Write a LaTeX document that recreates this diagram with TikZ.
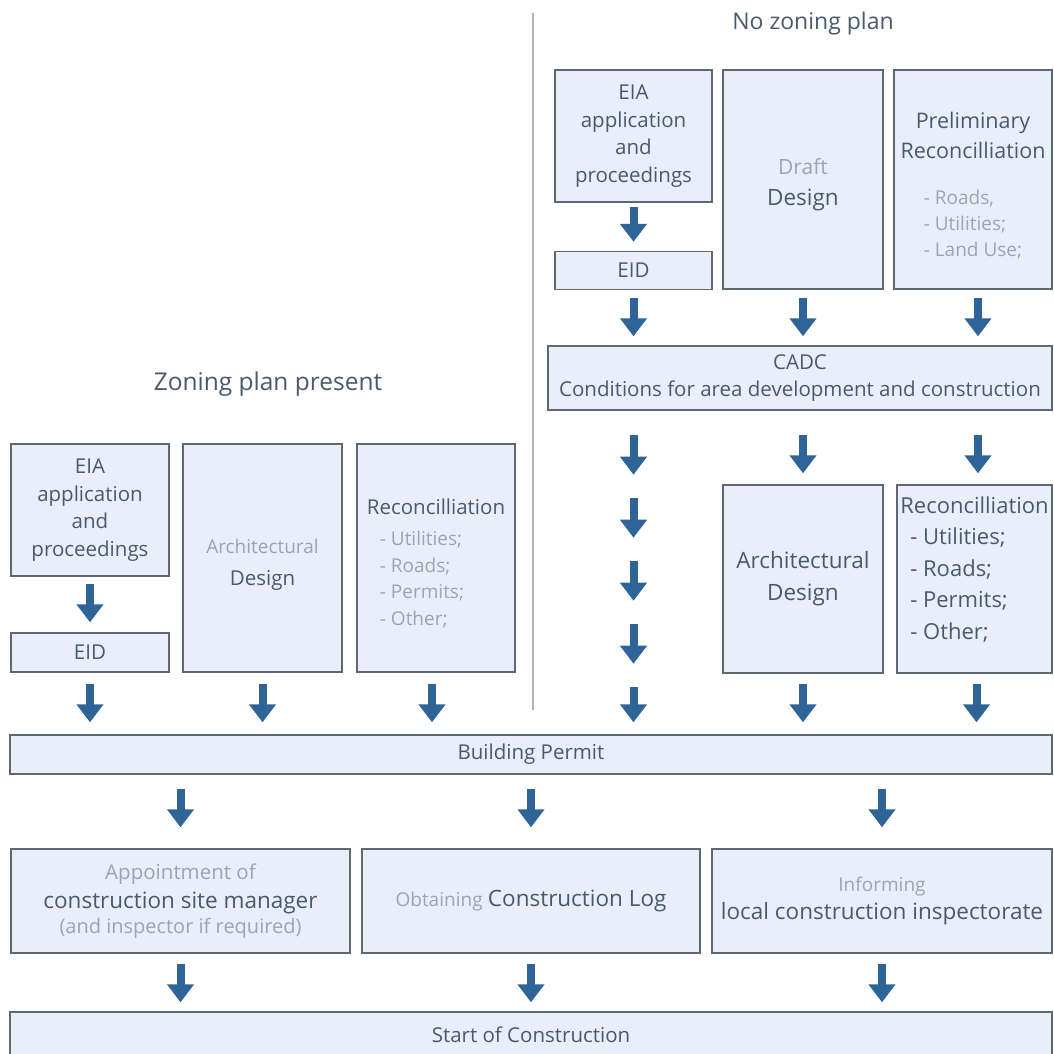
\documentclass[tikz,border=0pt]{standalone}
\usepackage{fontspec}
\setmainfont{Open Sans}
\usetikzlibrary{arrows.meta,calc}
\definecolor{boxfill}{HTML}{E9EEF8}
\definecolor{boxline}{HTML}{5E6873}
\definecolor{darkT}{HTML}{4A5A6E}
\definecolor{lightT}{HTML}{9EA5B0}
\definecolor{arrowC}{HTML}{2F6498}
\definecolor{vlineC}{HTML}{B4B4B4}
\newcommand\txtlight{\color{lightT}\fontsize{19}{26}\selectfont}
\newcommand\txtbig{\fontsize{22.5}{31}\selectfont}
\begin{document}
\begin{tikzpicture}[x=1pt,y=-1pt,
  box/.style={draw=boxline, fill=boxfill, line width=1.4pt, rectangle, inner sep=0pt,
    align=center, text=darkT, font=\fontsize{20.5}{27.5}\selectfont},
  head/.style={text=darkT, font=\fontsize{23}{28}\selectfont, inner sep=0pt},
  bigarrow/.style={draw=arrowC, line width=8pt, line cap=butt, -{Triangle[width=26pt,length=18pt]}},
  sep/.style={draw=vlineC, line width=1.2pt}
]
\useasboundingbox (0,0) rectangle (1054,1054);
\fill[white] (0,0) rectangle (1054,1054);

% headers and separator
\node[head] (hNo) at (813,24) {No zoning plan};
\node[head, font=\fontsize{24.5}{28}\selectfont] (hZon) at (268,384) {Zoning plan present};
\coordinate (sTop) at (533,13);
\coordinate (sBot) at (533,710);
\draw[sep] (sTop) -- (sBot);

% left branch
\node[box, minimum width=158pt, minimum height=132pt] (eiaL) at (90,510) {EIA\\application\\and\\proceedings};
\node[box, minimum width=158pt, minimum height=39pt] (eidL) at (90,652.5) {EID};
\node[box, minimum width=159pt, minimum height=228pt] (archL) at (262.5,558) {{\txtlight\rule{0pt}{28pt}Architectural}\\[5pt]Design};
\node[box, minimum width=158pt, minimum height=228pt, align=left] (recL) at (436,558)
  {\rule{0pt}{26pt}Reconcilliation\\[4pt]{\txtlight\hspace*{13pt}- Utilities;}\\[-1pt]{\txtlight\hspace*{13pt}- Roads;}\\[-1pt]{\txtlight\hspace*{13pt}- Permits;}\\[-1pt]{\txtlight\hspace*{13pt}- Other;}};

% right branch
\node[box, minimum width=157pt, minimum height=132pt] (eiaR) at (633.5,136) {EIA\\application\\and\\proceedings};
\node[box, minimum width=157pt, minimum height=38pt] (eidR) at (633.5,270.5) {EID};
\node[box, minimum width=160pt, minimum height=219pt] (draft) at (803,179.5) {{\color{lightT}\fontsize{21}{27}\selectfont\rule{0pt}{26pt}Draft}\\[3pt]{\txtbig Design}};
\node[box, minimum width=158pt, minimum height=219pt, font=\fontsize{21.5}{30}\selectfont] (prelim) at (973,179.5)
  {\rule{0pt}{34pt}Preliminary\\Reconcilliation\\[27pt]{\txtlight\begin{tabular}{@{}l@{}}- Roads,\\- Utilities;\\- Land Use;\end{tabular}}};
\node[box, minimum width=504pt, minimum height=64pt] (cadc) at (800,378) {CADC\\Conditions for area development and construction};
\node[box, minimum width=160pt, minimum height=188pt, font=\fontsize{22.5}{32}\selectfont] (archR) at (803,579) {Architectural\\Design};
\node[box, minimum width=155pt, minimum height=188pt, align=left, font=\fontsize{22}{31.5}\selectfont] (recR) at (974.5,579)
  {Reconcilliation\\\hspace*{10pt}- Utilities;\\\hspace*{10pt}- Roads;\\\hspace*{10pt}- Permits;\\\hspace*{10pt}- Other;\\[-9pt]};

% common
\node[box, minimum width=1042pt, minimum height=39pt] (bp) at (531,754.5) {Building Permit};
\node[box, minimum width=339pt, minimum height=104pt] (mgr) at (180.5,901)
  {{\txtlight\fontsize{20.5}{26}\selectfont Appointment of}\\[2pt]{\txtbig construction site manager}\\[-3pt]{\txtlight\fontsize{20}{26}\selectfont (and inspector if required)}};
\node[box, minimum width=338pt, minimum height=104pt] (log) at (531,901)
  {{\txtlight Obtaining} {\txtbig Construction Log}};
\node[box, minimum width=340pt, minimum height=104pt] (insp) at (882,901)
  {{\txtlight Informing}\\[0pt]{\txtbig local construction inspectorate}};
\node[box, minimum width=1042pt, minimum height=46pt] (start) at (531,1035) {Start of Construction};

% arrows, left branch
\draw[bigarrow] ($(eiaL.south)+(0,7)$) -- ($(eidL.north)+(0,-10)$);
\draw[bigarrow] ($(eidL.south)+(0,11)$) -- ($(eidL.south |- bp.north)+(0,-12)$);
\draw[bigarrow] ($(archL.south)+(0,11)$) -- ($(archL.south |- bp.north)+(0,-12)$);
\draw[bigarrow] ($(recL.south)+(-4,11)$) -- ($(recL.south |- bp.north)+(-4,-12)$);

% arrows, right branch
\draw[bigarrow] ($(eiaR.south)+(0,4)$) -- ($(eidR.north)+(0,-9)$);
\draw[bigarrow] ($(eidR.south)+(0,8)$) -- ($(eidR.south |- cadc.north)+(0,-9)$);
\draw[bigarrow] ($(draft.south)+(0,8)$) -- ($(draft.south |- cadc.north)+(0,-9)$);
\draw[bigarrow] ($(prelim.south)+(5,8)$) -- ($(prelim.south |- cadc.north)+(5,-9)$);

\coordinate (c0) at ($(eidR.south |- cadc.south)+(0,24)$);
\coordinate (c1) at ($(c0)+(0,63)$);
\coordinate (c2) at ($(c1)+(0,63)$);
\coordinate (c3) at ($(c2)+(0,63)$);
\coordinate (c4) at ($(c3)+(0,63)$);
\foreach \a in {0,1,2,3}{
  \draw[bigarrow] (c\a) -- ++(0,40);
}
\draw[bigarrow] (c4) -- ($(c4 |- bp.north)+(0,-12)$);
\draw[bigarrow] ($(draft.south |- cadc.south)+(0,24)$) -- ($(archR.north)+(0,-11)$);
\draw[bigarrow] ($(prelim.south |- cadc.south)+(5,24)$) -- ($(prelim.south |- recR.north)+(5,-11)$);
\draw[bigarrow] ($(archR.south)+(0,10)$) -- ($(archR.south |- bp.north)+(0,-12)$);
\draw[bigarrow] ($(recR.south)+(2,10)$) -- ($(recR.south |- bp.north)+(2,-12)$);

% arrows, common
\foreach \n in {mgr,log,insp}{
  \draw[bigarrow] ($(\n.north |- bp.south)+(0,14)$) -- ($(\n.north)+(0,-21)$);
  \draw[bigarrow] ($(\n.south)+(0,10)$) -- ($(\n.south |- start.north)+(0,-9)$);
}
\end{tikzpicture}
\end{document}
